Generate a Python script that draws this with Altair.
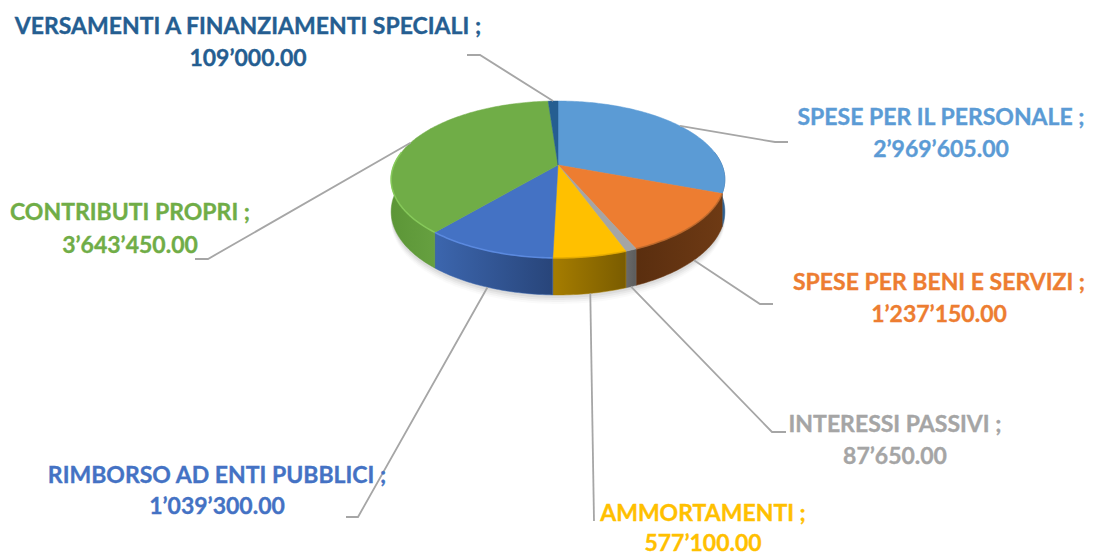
import math
import altair as alt
import pandas as pd

NAMES = ["SPESE PER IL PERSONALE", "SPESE PER BENI E SERVIZI", "INTERESSI PASSIVI",
         "AMMORTAMENTI", "RIMBORSO AD ENTI PUBBLICI", "CONTRIBUTI PROPRI",
         "VERSAMENTI A FINANZIAMENTI SPECIALI"]
VALUES = [2969605.00, 1237150.00, 87650.00, 577100.00, 1039300.00, 3643450.00, 109000.00]
VALUE_TEXT = ["2’969’605.00", "1’237’150.00", "87’650.00", "577’100.00",
              "1’039’300.00", "3’643’450.00", "109’000.00"]
COLORS = ["#5B9BD5", "#ED7D31", "#A5A5A5", "#FFC000", "#4472C4", "#70AD47", "#255E91"]
TEXT_COLORS = COLORS
WALL_LEFT = ["#2F5F8F", "#6E3A14", "#6A6A6A", "#A67D00", "#3C66AE", "#5C9637", "#1F4E79"]
WALL_RIGHT = ["#2A5580", "#5A2E0F", "#5C5C5C", "#7A5C00", "#28457A", "#66A040", "#1F4E79"]
RIM = [None, "#B5652A", None, "#E0A800", "#5F8FE6", "#8BD05E", None]

LABEL_X = [941, 939, 895, 703, 217, 130, 248]
LABEL_Y1 = [125, 290, 432, 521, 483, 220, 34]
LABEL_Y2 = [157, 322, 464, 551, 514, 253, 66]
ELBOW_X = [775, 760, 772, 594, 358, 208, 480]
ELBOW_Y = [142, 304, 432, 521, 517, 259, 55]
END_X = [788, 773, 786, 594, 346, 195, 467]
FONT = "Lato"

W, H = 1077, 547
FONT_SIZE = 23
X0, Y0 = 558, 165
A, B, C = 75.8, -0.1847, 164.0


def rim_point(deg, drop=0.0):
    t = math.radians(deg)
    u, v = math.sin(t), -math.cos(t)
    d = 1 + B * v
    depth = (31 + 6 * v) * drop
    return X0 + C * u / d, Y0 + A * v / d + depth


def arc(a, b, drop=0.0):
    n = max(2, int(abs(b - a)) + 2)
    return [rim_point(a + (b - a) * i / (n - 1), drop) for i in range(n)]


xs = alt.Scale(domain=[8, 8 + W], range=[0, W], nice=False, zero=False)
ys = alt.Scale(domain=[8, 8 + H], range=[0, H], nice=False, zero=False)


def encode(ch, order=True):
    enc = dict(x=alt.X("x:Q", scale=xs, axis=None), y=alt.Y("y:Q", scale=ys, axis=None))
    if order:
        enc["order"] = alt.Order("i:Q")
    return ch.encode(**enc)


def frame(pts):
    return pd.DataFrame([{"x": p[0], "y": p[1], "i": i} for i, p in enumerate(pts)])


total = sum(VALUES)
edges = [0.0]
for val in VALUES:
    edges.append(edges[-1] + val / total * 360)

layers = []
# soft shadow under the pie
outline = arc(0, 360, 1.0)
for off, op in [(9, 0.02), (7, 0.03), (5, 0.04), (3, 0.05)]:
    pts = [(x, y + off) for x, y in outline]
    layers.append(encode(alt.Chart(frame(pts)).mark_line(
        interpolate="linear-closed", fill="#000000", fillOpacity=op, strokeOpacity=0)))

# side walls
for k in range(len(VALUES)):
    a, b = max(edges[k], 80), min(edges[k + 1], 280)
    if b <= a:
        continue
    pts = arc(a, b) + arc(b, a, 1.0)
    grad = alt.Gradient(gradient="linear", x1=0, x2=1, y1=0, y2=0,
                        stops=[alt.GradientStop(offset=0, color=WALL_RIGHT[k] if a < 180 and k < 2 else WALL_LEFT[k]),
                               alt.GradientStop(offset=1, color=WALL_LEFT[k] if a < 180 and k < 2 else WALL_RIGHT[k])])
    layers.append(encode(alt.Chart(frame(pts)).mark_line(
        interpolate="linear-closed", fill=grad, stroke=WALL_LEFT[k], strokeWidth=0.5)))

# top surfaces
for k in range(len(VALUES)):
    pts = [(X0, Y0)] + arc(edges[k], edges[k + 1])
    layers.append(encode(alt.Chart(frame(pts)).mark_line(
        interpolate="linear-closed", fill=COLORS[k], stroke=COLORS[k], strokeWidth=0.5)))

# bevel highlight on the front rim
for k in range(len(VALUES)):
    if RIM[k] is None:
        continue
    a, b = max(edges[k], 80), min(edges[k + 1], 280)
    layers.append(encode(alt.Chart(frame(arc(a, b))).mark_line(
        stroke=RIM[k], strokeWidth=1.6, strokeOpacity=0.8)))

# leader lines and labels
for k in range(len(VALUES)):
    mid = (edges[k] + edges[k + 1]) / 2
    front = -math.cos(math.radians(mid)) > 0
    start = rim_point(mid, 1.0 if front else 0.0)
    pts = [start, (ELBOW_X[k], ELBOW_Y[k]), (END_X[k], ELBOW_Y[k])]
    layers.append(encode(alt.Chart(frame(pts)).mark_line(
        stroke="#A6A6A6", strokeWidth=1.8)))

labels = pd.DataFrame({
    "x": LABEL_X * 2,
    "y": LABEL_Y1 + LABEL_Y2,
    "t": [n + " ;" for n in NAMES] + VALUE_TEXT,
    "c": TEXT_COLORS * 2,
})
layers.append(alt.Chart(labels).mark_text(
    font=FONT, fontWeight="bold", fontSize=FONT_SIZE, align="center", baseline="alphabetic",
    strokeWidth=0.35
).encode(
    x=alt.X("x:Q", scale=xs, axis=None),
    y=alt.Y("y:Q", scale=ys, axis=None),
    text="t:N",
    color=alt.Color("c:N", scale=None),
    stroke=alt.Stroke("c:N", scale=None),
))

chart = alt.layer(*layers).properties(
    width=W, height=H, padding=0, background="white",
    autosize=alt.AutoSizeParams(type="none"),
).configure_view(stroke=None)
chart.save("out.html", embed_options={"renderer": "svg", "actions": False})
